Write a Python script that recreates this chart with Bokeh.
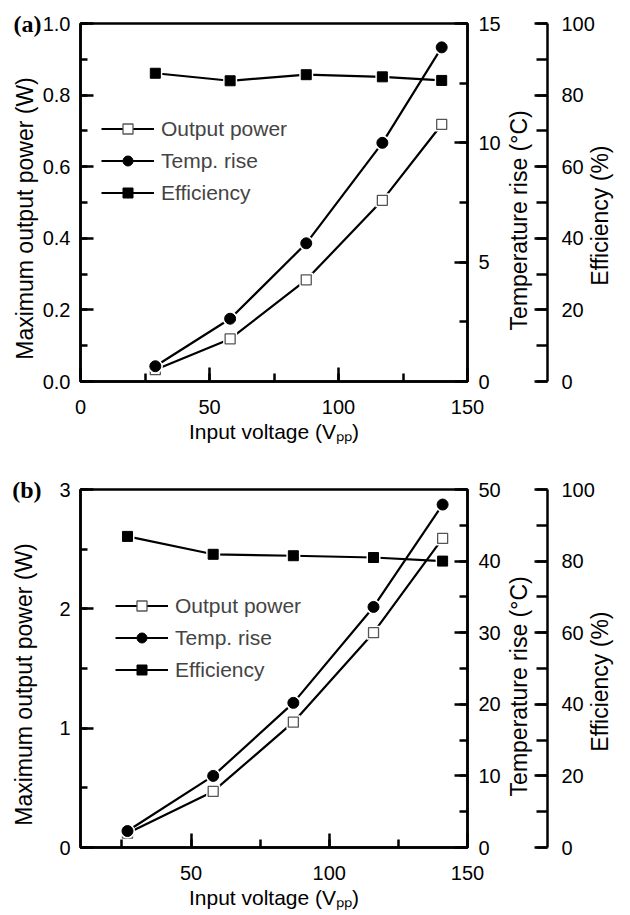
import math
from bokeh.plotting import figure
from bokeh.models import (LinearAxis, Range1d, SingleIntervalTicker, FixedTicker,
                          Legend, LegendItem, NumeralTickFormatter, CustomJSTickFormatter)
from bokeh.layouts import column
from bokeh.embed import file_html
from bokeh.resources import INLINE

# ---------------- data ----------------
# Panel (a)
a_voltage = [29, 58, 87.5, 117, 140]
a_power = [0.033, 0.119, 0.284, 0.506, 0.718]
a_temp = [0.64, 2.63, 5.79, 10.0, 14.0]
a_eff = [86.1, 84.0, 85.7, 85.1, 84.1]

# Panel (b)
b_voltage = [27, 58, 87, 116, 141]
b_power = [0.12, 0.47, 1.05, 1.80, 2.59]
b_temp = [2.3, 10.0, 20.2, 33.6, 47.9]
b_eff = [86.9, 81.9, 81.5, 81.0, 80.0]

series_labels = ["Output power", "Temp. rise", "Efficiency"]
NB = "\u00a0"
x_label = "Input voltage (V\u209a\u209a)"
power_label = "Maximum output power (W)" + NB * 5
temp_label = NB * 8 + "Temperature rise (\u00b0C)"
eff_label = NB * 15 + "Efficiency (%)"

FONT = "Liberation Sans"
FS = "20px"
TFS = "23px"
LW = 2.5


def style_axis(ax, major_in, minor_in, standoff, label_standoff, title_fs=TFS):
    ax.axis_line_width = LW
    ax.axis_line_color = "black"
    ax.major_tick_line_width = LW
    ax.minor_tick_line_width = LW
    ax.major_tick_line_color = "black"
    ax.minor_tick_line_color = "black"
    ax.major_tick_in = major_in
    ax.major_tick_out = 0
    ax.minor_tick_in = minor_in
    ax.minor_tick_out = 0
    ax.major_label_text_font = FONT
    ax.major_label_text_font_size = FS
    ax.major_label_text_color = "black"
    ax.major_label_standoff = standoff
    ax.axis_label_text_font = FONT
    ax.axis_label_text_font_size = title_fs
    ax.axis_label_text_font_style = "normal"
    ax.axis_label_text_color = "black"
    ax.axis_label_standoff = label_standoff


def flip_title(ax):
    # right-hand titles read bottom-to-top, like the left one
    ax.axis_label_orientation = math.pi / 2
    ax.axis_label_align = "start"


def bare_axis(ax):
    ax.axis_line_color = None
    ax.major_tick_line_color = None
    ax.minor_tick_line_color = None
    ax.major_tick_in = 0
    ax.major_tick_out = 0
    ax.minor_tick_out = 0
    ax.minor_tick_in = 0


def make_panel(tag, tag_y, xs, power, temp, eff, x0, pmax, pint, pfmt, title_standoff,
               tmax, tint, height, border_bottom, legend_loc):
    p = figure(width=630, height=height, x_range=Range1d(x0, 150),
               y_range=Range1d(0, pmax), output_backend="svg", toolbar_location=None,
               min_border_left=80, min_border_right=163, min_border_top=23,
               min_border_bottom=border_bottom)
    p.extra_y_ranges = {"temp": Range1d(0, tmax), "eff": Range1d(0, 100)}
    p.xgrid.visible = False
    p.ygrid.visible = False
    p.outline_line_color = "black"
    p.outline_line_width = LW
    p.background_fill_color = "white"
    p.border_fill_color = "white"

    xa = p.xaxis[0]
    xa.ticker = SingleIntervalTicker(interval=50, num_minor_ticks=2)
    xa.axis_label = x_label
    style_axis(xa, 14, 8, 18, 3, title_fs="21px")

    ya = p.yaxis[0]
    ya.ticker = SingleIntervalTicker(interval=pint, num_minor_ticks=2)
    ya.formatter = NumeralTickFormatter(format=pfmt)
    ya.axis_label = power_label
    style_axis(ya, 13, 7, 10, title_standoff)

    # panel tag "(a)"/"(b)" drawn as the single label of a bare outer axis
    tag_ax = LinearAxis(ticker=FixedTicker(ticks=[tag_y]),
                        formatter=CustomJSTickFormatter(code="return '%s'" % tag))
    bare_axis(tag_ax)
    tag_ax.major_label_text_font = "Liberation Serif"
    tag_ax.major_label_text_font_style = "bold"
    tag_ax.major_label_text_font_size = "24px"
    tag_ax.major_label_text_color = "black"
    tag_ax.major_label_standoff = -33
    p.add_layout(tag_ax, "left")

    ta = LinearAxis(y_range_name="temp", axis_label=temp_label,
                    ticker=SingleIntervalTicker(interval=tint, num_minor_ticks=2))
    style_axis(ta, 13, 8, 11, 15)
    flip_title(ta)
    p.add_layout(ta, "right")

    ea = LinearAxis(y_range_name="eff", axis_label=eff_label,
                    ticker=SingleIntervalTicker(interval=20, num_minor_ticks=2))
    style_axis(ea, 13, 11, 14, 2)
    flip_title(ea)
    p.add_layout(ea, "right")

    items = []
    specs = [
        (power, "default", "square", "white", "#555555", 1.3, 10),
        (temp, "temp", "circle", "black", "black", 1, 11),
        (eff, "eff", "square", "black", "black", 1, 10),
    ]
    for (ys, rng, marker, fill, mline, mlw, size), lab in zip(specs, series_labels):
        ln = p.line(xs, ys, y_range_name=rng, line_color="black", line_width=2.2)
        halo = p.scatter(xs, ys, y_range_name=rng, marker=marker, size=size + 4,
                         fill_color="white", line_color=None)
        mk = p.scatter(xs, ys, y_range_name=rng, marker=marker, size=size,
                       fill_color=fill, line_color=mline, line_width=mlw)
        items.append(LegendItem(label=lab, renderers=[ln, halo, mk]))

    leg = Legend(items=items, location=legend_loc, padding=0, margin=0,
                 border_line_color=None, background_fill_alpha=0,
                 glyph_width=53, glyph_height=25, label_height=25, spacing=7,
                 label_standoff=7, label_text_font=FONT, label_text_font_size="21px")
    p.add_layout(leg, "center")
    return p


pa = make_panel("(a)", 0.9995, a_voltage, a_power, a_temp, a_eff, 0, 1.0, 0.2, "0.0", 2,
                15, 5, 466, 85, (21, 176))
pb = make_panel("(b)", 2.999, b_voltage, b_power, b_temp, b_eff, 10, 3.0, 1, "0", 19,
                50, 10, 449, 68, (35, 165))

layout = column(pa, pb)
open("out.html", "w").write(file_html(layout, INLINE))
